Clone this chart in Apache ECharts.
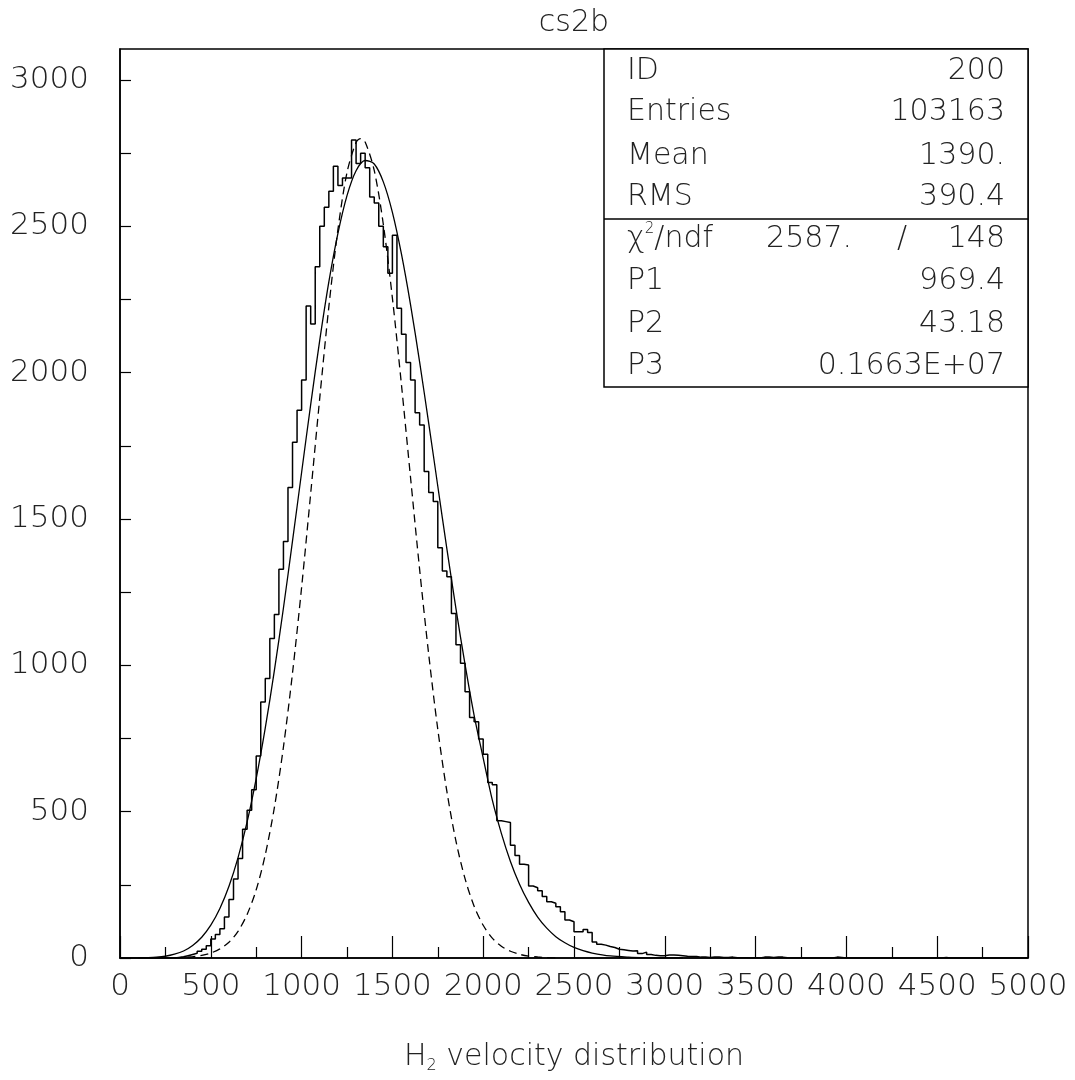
<!DOCTYPE html>
<html>
<head>
<meta charset="utf-8">
<script src="https://cdn.jsdelivr.net/npm/echarts@6/dist/echarts.min.js"></script>
<style>
html,body{margin:0;padding:0;background:#fff;}
#chart{width:1075px;height:1080px;}
</style>
</head>
<body>
<div id="chart"></div>
<script>
// ---- data ----
const binWidth = 25;
const binStart = 0;
const counts = [
  0,0,0,0,0,0,0,0,0,0,0,0,2,4,8,12,16,23,30,42,
  65,80,100,140,200,270,340,440,505,575,690,875,955,1092,1174,1328,1423,1608,1762,1872,
  1975,2228,2166,2362,2500,2565,2620,2705,2640,2665,2665,2795,2715,2750,2700,2600,2580,2500,2430,2340,
  2470,2220,2131,2035,1975,1863,1821,1662,1591,1560,1402,1322,1303,1177,1070,1007,910,822,807,748,
  696,600,592,469,466,463,385,350,320,318,246,240,230,210,192,187,175,158,130,124,
  90,90,97,87,55,47,44,39,36,30,28,26,24,25,15,20,12,9,8,8,
  10,10,9,8,6,5,5,3,3,2,3,3,2,2,3,1,1,1,0,1,
  0,3,3,2,3,3,1,0,0,0,0,0,0,0,0,0,0,3,2,0,
  0,0,0,0,0,0,0,0,0,0,0,0,0,0,0,0,0,0,0,0,
  0,2,0,0,0,0,0,0,0,0,0,0,0,0,0,0,0,0,0,0
];
const fitX = [100,150,200,250,300,350,400,450,500,550,600,650,700,750,800,850,900,950,1000,1050,1100,1150,1200,1250,1300,1350,1400,1450,1500,1550,1600,1650,1700,1750,1800,1850,1900,1950,2000,2050,2100,2150,2200,2250,2300,2350,2400,2450,2500,2550,2600,2700,2800,2900,3000,3100];
const fitY = [0.2,1,2.5,6,13,24,43,71,112,169,245,343,465,613,786,982,1196,1425,1659,1891,2111,2310,2476,2605,2690,2725,2713,2652,2548,2405,2232,2036,1827,1612,1398,1194,1003,829,683,540,426,330,252,190,140,102,73,52,36,25,17,7,3,1.2,0.4,0.1];
const dashX = [300,350,400,450,500,550,600,650,700,750,800,850,900,950,1000,1050,1100,1150,1200,1250,1300,1325,1350,1400,1450,1500,1550,1600,1650,1700,1750,1800,1850,1900,1950,2000,2050,2100,2150,2200,2250,2300,2350,2400];
const dashY = [1,2,4.5,9,17,31,54,91,149,233,353,514,721,974,1266,1587,1914,2225,2489,2684,2787,2800,2788,2691,2507,2255,1958,1641,1327,1037,781,569,399,271,177,112,68,40,23,12.5,6.6,3.4,1.6,0.7];
const xTicks = [0,500,1000,1500,2000,2500,3000,3500,4000,4500,5000];
const yTicks = [0,500,1000,1500,2000,2500,3000];
const titleText = 'cs2b';
const statLabels = ['ID','Entries','Mean','RMS'];
const statValues = ['200','103163','1390.','390.4'];
const chi2Value = '2587.';
const ndfValue = '148';
const parLabels = ['P1','P2','P3'];
const parValues = ['969.4','43.18','0.1663E+07'];

// ---- build ----
const FONT = 'DejaVu Sans';
const FW = 200;
const TXT = '#222';
const histPts = [];
counts.forEach((c, i) => {
  const x0 = binStart + i * binWidth;
  histPts.push([x0, c]);
  histPts.push([x0 + binWidth, c]);
});
const fitPts = fitX.map((x, i) => [x, fitY[i]]);
const dashPts = dashX.map((x, i) => [x, dashY[i]]);

const chart = echarts.init(document.getElementById('chart'), null, {renderer: 'canvas'});

const boxL = 604, boxR = 1028, boxT = 49, boxB = 387, boxMid = 219;
const rowY = [71, 112.5, 156, 197.5, 239, 281, 324, 366];
const txtLeft = 627, txtRight = 1005;
const graphics = [];
graphics.push({type: 'rect', z: 100, shape: {x: boxL, y: boxT, width: boxR - boxL, height: boxB - boxT},
  style: {fill: '#fff', stroke: '#000', lineWidth: 1.5}});
graphics.push({type: 'line', z: 101, shape: {x1: boxL, y1: boxMid, x2: boxR, y2: boxMid},
  style: {stroke: '#000', lineWidth: 1.5}});
function txt(x, y, s, align) {
  graphics.push({type: 'text', z: 102, x: x, y: y,
    style: {text: s, fontFamily: FONT, fontWeight: FW, fontSize: 30, fill: TXT, textAlign: align, textVerticalAlign: 'middle'}});
}
statLabels.forEach((s, i) => { txt(txtLeft, rowY[i], s, 'left'); txt(txtRight, rowY[i], statValues[i], 'right'); });
graphics.push({type: 'text', z: 102, x: txtLeft, y: rowY[4],
  style: {text: '{c|χ}{s|2}{c|/ndf}', fontFamily: FONT, fill: TXT, textAlign: 'left', textVerticalAlign: 'middle',
    rich: {c: {fontSize: 30, fontFamily: FONT, fontWeight: FW, fill: TXT, lineHeight: 34},
           s: {fontSize: 15, fontFamily: FONT, fontWeight: FW, fill: TXT, lineHeight: 34, verticalAlign: 'top', padding: [0, 0, 14, 0]}}}});
txt(852, rowY[4], chi2Value, 'right');
txt(902, rowY[4], '/', 'center');
txt(txtRight, rowY[4], ndfValue, 'right');
parLabels.forEach((s, i) => { txt(txtLeft, rowY[5 + i], s, 'left'); txt(txtRight, rowY[5 + i], parValues[i], 'right'); });
graphics.push({type: 'text', z: 102, x: 574, y: 23,
  style: {text: titleText, fontFamily: FONT, fontWeight: FW, fontSize: 30, fill: TXT, textAlign: 'center', textVerticalAlign: 'middle'}});

const option = {
  animation: false,
  backgroundColor: '#fff',
  grid: {left: 120, right: 47, top: 49, bottom: 122, show: true, borderColor: '#000', borderWidth: 1.5, backgroundColor: 'transparent'},
  xAxis: {
    type: 'value', min: 0, max: 5000, interval: 500,
    axisLine: {show: true, onZero: false, lineStyle: {color: '#000', width: 1.5}},
    axisTick: {show: true, inside: true, length: 22, lineStyle: {color: '#000', width: 1.2}},
    minorTick: {show: true, splitNumber: 2, length: 11, lineStyle: {color: '#000', width: 1.2}},
    splitLine: {show: false}, minorSplitLine: {show: false},
    axisLabel: {fontFamily: FONT, fontWeight: FW, fontSize: 31, color: TXT, margin: 13,
      formatter: v => xTicks.indexOf(v) >= 0 ? String(v) : ''},
    name: '{a|H}{b|2}{a| velocity distribution}', nameLocation: 'middle', nameGap: 82,
    nameTextStyle: {fontFamily: FONT, fontSize: 30, color: TXT,
      rich: {a: {fontFamily: FONT, fontWeight: FW, fontSize: 30, color: TXT, lineHeight: 34},
             b: {fontFamily: FONT, fontWeight: FW, fontSize: 16, color: TXT, lineHeight: 34, verticalAlign: 'bottom', padding: [14, 0, 0, 0]}}}
  },
  yAxis: {
    type: 'value', min: 0, max: 3106, interval: 250,
    axisLine: {show: true, onZero: false, lineStyle: {color: '#000', width: 1.5}},
    axisTick: {show: true, inside: true, length: 11, lineStyle: {color: '#000', width: 1.2}},
    splitLine: {show: false},
    axisLabel: {fontFamily: FONT, fontWeight: FW, fontSize: 31, color: TXT, margin: 31, showMaxLabel: false,
      formatter: v => yTicks.indexOf(v) >= 0 ? String(v) : ''}
  },
  series: [
    {type: 'line', data: histPts, showSymbol: false, symbol: 'none', clip: true,
     lineStyle: {color: '#000', width: 1.5}, z: 3},
    {type: 'line', data: fitPts, showSymbol: false, symbol: 'none', smooth: 0.3, clip: true,
     lineStyle: {color: '#000', width: 1.3}, z: 4},
    {type: 'line', data: dashPts, showSymbol: false, symbol: 'none', smooth: 0.3, clip: true,
     lineStyle: {color: '#000', width: 1.3, type: [8, 5]}, z: 4}
  ],
  graphic: graphics
};
chart.setOption(option);
</script>
</body>
</html>
